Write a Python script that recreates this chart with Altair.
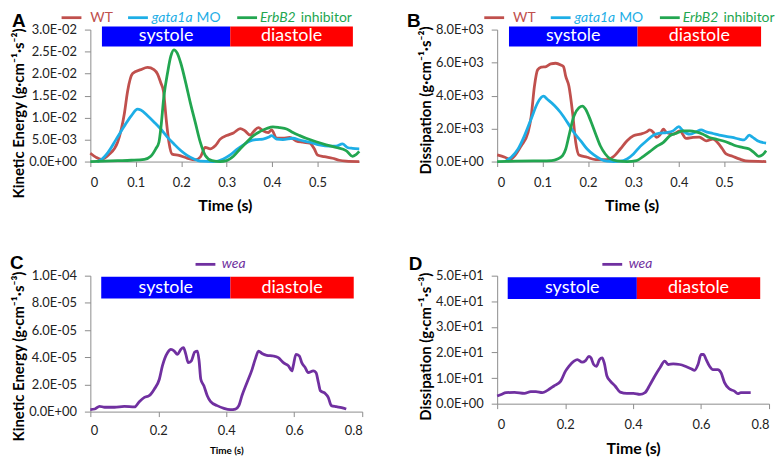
import altair as alt
import pandas as pd

FONT = "Lato"
TITLE_FONT = "Lato"

SERIES = ["WT", "gata1a MO", "ErbB2 inhibitor"]
SERIES_COLORS = ["#C0504D", "#1DAEE6", "#22A650"]
WEA = "wea"
WEA_COLOR = "#7030A0"
PHASE_LABELS = ["systole", "diastole"]
PHASE_COLORS = ["#0000FF", "#FF0000"]

# ---- Panel A: kinetic energy (g·cm-1·s-2), values in units of 1e-2
A_SCALE = 1e-2
A_WT_T = [0, 0.012, 0.024, 0.04, 0.06, 0.075, 0.082, 0.093, 0.111, 0.126, 0.14, 0.148, 0.155, 0.161, 0.167,
          0.173, 0.18, 0.195, 0.213, 0.231, 0.242, 0.253, 0.264, 0.275, 0.286, 0.3, 0.315, 0.33, 0.34, 0.352,
          0.359, 0.37, 0.38, 0.392, 0.399, 0.41, 0.424, 0.439, 0.453, 0.468, 0.483, 0.493, 0.5, 0.515, 0.533,
          0.548, 0.563, 0.592]
A_WT_V = [0.19, 0.1, 0.05, 0.15, 0.44, 1.1, 1.6, 2.0, 2.09, 2.14, 2.09, 1.99, 1.79, 1.6, 0.96,
          0.44, 0.17, 0.14, 0.08, 0.04, 0.1, 0.32, 0.29, 0.36, 0.51, 0.59, 0.65, 0.75, 0.7, 0.6,
          0.68, 0.77, 0.7, 0.66, 0.72, 0.53, 0.53, 0.55, 0.47, 0.44, 0.42, 0.29, 0.15, 0.11, 0.075,
          0.03, 0.01, 0.0]
A_GATA_T = [0.015, 0.022, 0.039, 0.057, 0.075, 0.09, 0.104, 0.111, 0.126, 0.14, 0.155, 0.17, 0.184, 0.199,
            0.213, 0.228, 0.242, 0.271, 0.293, 0.308, 0.322, 0.337, 0.352, 0.366, 0.38, 0.392, 0.399, 0.41,
            0.424, 0.446, 0.461, 0.483, 0.504, 0.526, 0.541, 0.555, 0.566, 0.577, 0.592]
A_GATA_V = [0.0, 0.03, 0.21, 0.51, 0.81, 1.04, 1.19, 1.17, 1.04, 0.9, 0.74, 0.55, 0.4, 0.25,
            0.14, 0.06, 0.01, 0.0, 0.06, 0.15, 0.27, 0.38, 0.47, 0.5, 0.51, 0.55, 0.59, 0.51,
            0.5, 0.53, 0.49, 0.44, 0.38, 0.35, 0.35, 0.4, 0.32, 0.3, 0.29]
A_ERB_T = [0, 0.03, 0.06, 0.09, 0.119, 0.133, 0.144, 0.151, 0.155, 0.162, 0.17, 0.177, 0.184, 0.191, 0.199,
           0.21, 0.22, 0.231, 0.242, 0.253, 0.268, 0.286, 0.3, 0.315, 0.33, 0.344, 0.359, 0.373, 0.388, 0.402,
           0.417, 0.432, 0.446, 0.461, 0.475, 0.497, 0.519, 0.541, 0.563, 0.577, 0.584, 0.592]
A_ERB_V = [0.0, 0.01, 0.02, 0.03, 0.05, 0.12, 0.29, 0.44, 0.74, 1.49, 2.02, 2.39, 2.54, 2.47, 2.24,
           1.79, 1.34, 0.89, 0.44, 0.14, 0.02, 0.0, 0.02, 0.12, 0.29, 0.44, 0.59, 0.68, 0.75, 0.79,
           0.77, 0.74, 0.66, 0.59, 0.53, 0.45, 0.38, 0.32, 0.25, 0.12, 0.15, 0.23]

# ---- Panel B: dissipation (g·cm-1·s-2)
B_WT_T = [0, 0.017, 0.028, 0.039, 0.053, 0.068, 0.075, 0.082, 0.089, 0.097, 0.108, 0.118, 0.129, 0.14, 0.146,
          0.151, 0.158, 0.166, 0.173, 0.18, 0.198, 0.217, 0.242, 0.257, 0.271, 0.286, 0.3, 0.315, 0.329,
          0.336, 0.344, 0.351, 0.358, 0.366, 0.373, 0.387, 0.402, 0.416, 0.431, 0.445, 0.46, 0.475, 0.485,
          0.496, 0.504, 0.518, 0.533, 0.547, 0.592]
B_WT_V = [400, 260, 120, 360, 960, 1760, 2760, 4560, 5560, 5720, 5760, 5920, 5960, 5860, 5760,
          5160, 4560, 2960, 1160, 400, 260, 120, 120, 320, 760, 1260, 1560, 1660, 1800,
          1920, 1760, 1460, 1600, 1960, 1760, 1660, 1860, 1400, 1460, 1480, 1260, 1360, 1160,
          760, 460, 320, 160, 40, 0]
B_GATA_T = [0.02, 0.031, 0.046, 0.06, 0.075, 0.089, 0.102, 0.111, 0.126, 0.14, 0.155, 0.169, 0.184, 0.198,
            0.213, 0.227, 0.242, 0.257, 0.271, 0.286, 0.3, 0.315, 0.329, 0.344, 0.358, 0.373, 0.387, 0.4,
            0.409, 0.424, 0.438, 0.449, 0.46, 0.475, 0.489, 0.504, 0.518, 0.533, 0.544, 0.555, 0.562,
            0.573, 0.592]
B_GATA_V = [60, 260, 760, 1560, 2600, 3560, 3960, 3760, 3400, 2960, 2360, 1760, 1260, 760,
            400, 160, 20, 0, 20, 160, 460, 920, 1260, 1600, 1720, 1760, 1860, 2120,
            1860, 1660, 1800, 1920, 1800, 1700, 1600, 1520, 1460, 1360, 1320, 1600, 1480,
            1260, 1120]
B_ERB_T = [0, 0.04, 0.08, 0.12, 0.133, 0.144, 0.151, 0.158, 0.169, 0.18, 0.188, 0.195, 0.206, 0.217, 0.227,
           0.238, 0.249, 0.264, 0.286, 0.307, 0.322, 0.336, 0.351, 0.366, 0.38, 0.395, 0.409, 0.424, 0.438,
           0.453, 0.467, 0.482, 0.496, 0.511, 0.525, 0.54, 0.555, 0.565, 0.576, 0.584, 0.592]
B_ERB_V = [0, 20, 40, 60, 160, 360, 760, 1560, 2760, 3260, 3360, 3160, 2460, 1660, 960,
           460, 160, 40, 0, 60, 320, 600, 920, 1160, 1560, 1720, 1860, 1860, 1800,
           1660, 1460, 1360, 1260, 1120, 960, 860, 760, 560, 320, 400, 660]

# ---- Panel C: kinetic energy (g·cm-1·s-3), values in units of 1e-5
C_SCALE = 1e-5
C_WEA_T = [0, 0.013, 0.027, 0.042, 0.071, 0.1, 0.13, 0.144, 0.159, 0.173, 0.188, 0.203, 0.212, 0.227, 0.237,
           0.247, 0.256, 0.266, 0.274, 0.281, 0.288, 0.297, 0.307, 0.315, 0.32, 0.325, 0.334, 0.344, 0.354,
           0.373, 0.393, 0.412, 0.427, 0.437, 0.446, 0.461, 0.476, 0.485, 0.495, 0.505, 0.519, 0.539, 0.553,
           0.568, 0.583, 0.593, 0.597, 0.605, 0.615, 0.622, 0.632, 0.641, 0.656, 0.664, 0.671, 0.677, 0.69,
           0.7, 0.709, 0.724, 0.739, 0.753]
C_WEA_V = [0.15, 0.19, 0.39, 0.32, 0.32, 0.39, 0.34, 0.73, 1.05, 1.17, 1.65, 2.38, 3.36, 4.33, 4.57,
           4.45, 4.21, 4.57, 4.7, 4.21, 3.6, 3.72, 4.38, 4.45, 3.72, 2.38, 1.9, 1.17, 0.73,
           0.44, 0.24, 0.15, 0.19, 0.44, 1.17, 2.14, 3.11, 3.84, 4.45, 4.28, 4.14, 4.09, 3.97,
           3.6, 3.36, 2.99, 3.36, 4.21, 4.09, 3.6, 3.24, 2.87, 2.99, 2.87, 2.14, 1.53, 1.36,
           1.05, 0.44, 0.36, 0.29, 0.19]

# ---- Panel D: dissipation (g·cm-1·s-3)
D_WEA_T = [0, 0.012, 0.026, 0.051, 0.08, 0.099, 0.114, 0.133, 0.148, 0.167, 0.187, 0.201, 0.211, 0.226, 0.236,
           0.25, 0.26, 0.27, 0.276, 0.284, 0.292, 0.301, 0.309, 0.315, 0.323, 0.333, 0.347, 0.362, 0.382,
           0.401, 0.42, 0.435, 0.45, 0.464, 0.479, 0.493, 0.503, 0.518, 0.537, 0.557, 0.571, 0.581, 0.591,
           0.6, 0.607, 0.615, 0.625, 0.635, 0.649, 0.659, 0.669, 0.683, 0.698, 0.708, 0.717, 0.732, 0.746]
D_WEA_V = [3.0, 3.6, 4.3, 4.4, 4.0, 4.7, 4.7, 4.3, 5.2, 6.9, 8.8, 12.7, 14.6, 16.6, 17.2,
           16.2, 16.8, 18.5, 17.9, 15.3, 14.6, 17.2, 17.9, 15.9, 10.8, 8.8, 6.9, 4.5, 4.0,
           4.0, 3.6, 4.3, 7.5, 10.8, 14.0, 16.6, 15.3, 15.5, 15.3, 14.4, 13.6, 13.0, 15.3,
           19.2, 19.2, 17.2, 14.6, 13.3, 13.3, 12.0, 8.2, 5.8, 4.9, 3.9, 4.3, 4.3, 4.3]

# phase boundaries (s): systole start, systole end / diastole start, diastole end
A_PHASES = [0.0255, 0.308, 0.578]
B_PHASES = [0.026, 0.309, 0.581]
C_PHASES = [0.032, 0.412, 0.775]
D_PHASES = [0.031, 0.411, 0.774]

X_TICKS_AB = [0, 0.1, 0.2, 0.3, 0.4, 0.5]
X_TICKS_CD = [0, 0.2, 0.4, 0.6, 0.8]
A_Y_TICKS = [0, 0.005, 0.01, 0.015, 0.02, 0.025, 0.03]
B_Y_TICKS = [0, 2000, 4000, 6000, 8000]
C_Y_TICKS = [0, 2e-5, 4e-5, 6e-5, 8e-5, 1e-4]
D_Y_TICKS = [0, 10, 20, 30, 40, 50]

Y_LABEL_EXPR = ("replace(replace(replace(format(datum.value, '.1e'), 'e-', 'E-0'), "
                "'e+', 'E+0'), 'e\u2212', 'E-0')")
AXIS_GRAY = "#8C8C8C"


def series_df(items):
    rows = []
    for name, ts, vs, scale, col in items:
        for t, v in zip(ts, vs):
            rows.append({"series": name, "t": t, "v": v * scale, "col": col})
    return pd.DataFrame(rows)


def one():
    return pd.DataFrame({"k": [0]})


def panel(df, xdom, xticks, ydom, yticks, ytitle, ytitle_y, w, h,
          phases, bar_y, letter, letter_xy, rules, texts, xtitle_size, xtitle_y, xlab_pad):
    xaxis = alt.Axis(values=xticks, format=".1~f", labelFont=FONT, labelFontSize=13,
                     labelColor="#222", labelPadding=xlab_pad, tickSize=5,
                     tickColor=AXIS_GRAY, domainColor=AXIS_GRAY, grid=False,
                     titleFont=TITLE_FONT, titleFontWeight="bold", titleFontSize=xtitle_size,
                     titleColor="#000", titleY=xtitle_y, titleBaseline="middle")
    xscale = alt.Scale(domain=xdom, nice=False, zero=False)

    def X(field):
        return alt.X(field, type="quantitative", scale=xscale, axis=xaxis, title="Time (s)")

    yaxis = alt.Axis(values=yticks, labelExpr=Y_LABEL_EXPR, labelFont=FONT, labelFontSize=13,
                     labelColor="#222", labelPadding=8, tickSize=6, tickColor=AXIS_GRAY,
                     domainColor=AXIS_GRAY, grid=False, titleFont=TITLE_FONT,
                     titleFontWeight="bold", titleFontSize=15, titleColor="#000",
                     titleAngle=270, titleX=-72, titleY=ytitle_y, titleAlign="center",
                     titleBaseline="middle")

    lines = alt.Chart(df).mark_line(strokeWidth=2.8, interpolate="monotone").encode(
        x=X("t"),
        y=alt.Y("v:Q", scale=alt.Scale(domain=ydom, nice=False), axis=yaxis, title=ytitle),
        color=alt.Color("col:N", scale=None),
        detail="series:N",
        order=alt.Order("t:Q"),
    )

    bars_df = pd.DataFrame({
        "start": phases[:2], "end": phases[1:],
        "mid": [(phases[0] + phases[1]) / 2, (phases[1] + phases[2]) / 2],
        "label": PHASE_LABELS, "fill": PHASE_COLORS,
    })
    bars = alt.Chart(bars_df).mark_rect().encode(
        x=X("start"), x2="end", y=alt.value(bar_y[0]), y2=alt.value(bar_y[1]),
        color=alt.Color("fill:N", scale=None),
    )
    bar_text = alt.Chart(bars_df).mark_text(font=FONT, fontSize=18, color="white",
                                            baseline="middle").encode(
        x=X("mid"), y=alt.value((bar_y[0] + bar_y[1]) / 2), text="label:N",
    )

    leg_rules = alt.layer(*[
        alt.Chart(one()).mark_rule(strokeWidth=2.8, color=c).encode(
            x=alt.value(x1), x2=alt.value(x2), y=alt.value(y))
        for (x1, x2, y, c) in rules
    ])
    leg_texts = alt.layer(*[
        alt.Chart(one()).mark_text(
            text=t, font=FONT, fontSize=14, fontStyle=("italic" if it else "normal"),
            color=c, align="left", baseline="middle").encode(x=alt.value(x), y=alt.value(y))
        for (x, y, t, c, it) in texts
    ])
    letter_mark = alt.Chart(one()).mark_text(
        text=letter, font="Liberation Sans", fontWeight="bold", fontSize=19, color="#000",
        align="left", baseline="top").encode(x=alt.value(letter_xy[0]), y=alt.value(letter_xy[1]))

    return alt.layer(bars, bar_text, lines, leg_rules, leg_texts, letter_mark).properties(
        width=w, height=h)


red, blue, green = SERIES_COLORS
dfA = series_df([(SERIES[0], A_WT_T, A_WT_V, A_SCALE, red),
                 (SERIES[1], A_GATA_T, A_GATA_V, A_SCALE, blue),
                 (SERIES[2], A_ERB_T, A_ERB_V, A_SCALE, green)])
dfB = series_df([(SERIES[0], B_WT_T, B_WT_V, 1, red), (SERIES[1], B_GATA_T, B_GATA_V, 1, blue),
                 (SERIES[2], B_ERB_T, B_ERB_V, 1, green)])
dfC = series_df([(WEA, C_WEA_T, C_WEA_V, C_SCALE, WEA_COLOR)])
dfD = series_df([(WEA, D_WEA_T, D_WEA_V, 1, WEA_COLOR)])

LEG_Y = -12


def leg3(off):
    rules = [(off - 29, off - 9, LEG_Y, red), (off + 38, off + 58, LEG_Y, blue),
             (off + 148, off + 168, LEG_Y, green)]
    texts = [(off + 0, LEG_Y, "WT", red, False), (off + 62, LEG_Y, "gata1a", blue, True),
             (off + 107, LEG_Y, "MO", blue, False), (off + 171, LEG_Y, "ErbB2", green, True),
             (off + 212, LEG_Y, "inhibitor", green, False)]
    return rules, texts


rA, tA = leg3(0)
rB, tB = leg3(16)
rC = [(106, 126, -11.4, WEA_COLOR)]
tC = [(132.5, -11.4, "wea", WEA_COLOR, True)]

KE2 = "Kinetic Energy (g\u00b7cm\u207b\u00b9\u00b7s\u207b\u00b2)"
DI2 = "Dissipation (g\u00b7cm\u207b\u00b9\u00b7s\u207b\u00b2)"
KE3 = "Kinetic Energy (g\u00b7cm\u207b\u00b9\u00b7s\u207b\u00b3)"
DI3 = "Dissipation (g\u00b7cm\u207b\u00b9\u00b7s\u207b\u00b3)"

pA = panel(dfA, [0, 0.592], X_TICKS_AB, [0, 0.03], A_Y_TICKS, KE2, 84,
           271, 133, A_PHASES, (-3, 17), "A", (-79, -18), rA, tA, 16, 44, 10)
pB = panel(dfB, [0, 0.592], X_TICKS_AB, [0, 8000], B_Y_TICKS, DI2, 71,
           271, 133, B_PHASES, (-3, 17), "B", (-91, -18), rB, tB, 16, 44, 10)
pC = panel(dfC, [0, 0.8], X_TICKS_CD, [0, 1e-4], C_Y_TICKS, KE3, 81,
           274, 137, C_PHASES, (1, 23), "C", (-81, -22), rC, tC, 10, 39, 8)
pD = panel(dfD, [0, 0.8], X_TICKS_CD, [0, 50], D_Y_TICKS, DI3, 71,
           274, 129, D_PHASES, (1.5, 23.5), "D", (-89, -21), rC, tC, 16, 45, 10)

chart = alt.concat(pA, pB, pC, pD, columns=2).properties(
    bounds="flush", align="each", spacing={"row": 115, "column": 136},
    padding={"left": 2, "top": 1, "right": 0, "bottom": 0},
    background="white",
).configure_view(stroke=None)

chart.save("out.html", embed_options={"renderer": "svg", "actions": False})
